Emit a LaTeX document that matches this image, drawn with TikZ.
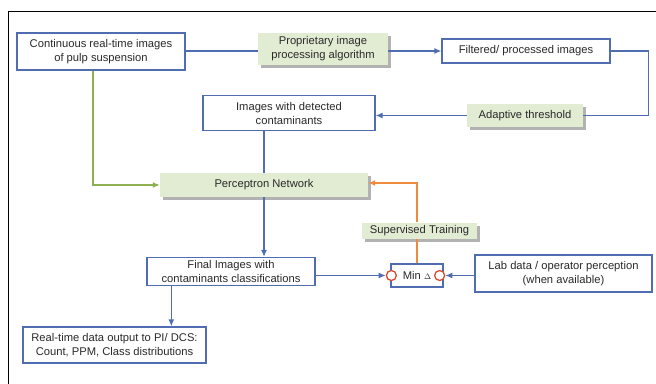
\documentclass[tikz,border=0pt]{standalone}
\usepackage{fontspec}
\setmainfont{Liberation Sans}
\usetikzlibrary{arrows.meta,positioning,shadows}
\definecolor{flowblue}{HTML}{4F6DB0}
\definecolor{procgreen}{HTML}{E1ECD3}
\definecolor{feedgreen}{HTML}{8DB152}
\definecolor{trainorange}{HTML}{EE8B3E}
\definecolor{markred}{HTML}{D94A33}
\definecolor{inktext}{HTML}{2A2A2A}
\tikzset{
  bluebox/.style={draw=flowblue, line width=1.3pt, fill=white, align=center,
    inner sep=1pt, text=inktext, font=\fontsize{11.2}{14}\selectfont},
  greenbox/.style={fill=procgreen, align=center, inner sep=1pt, text=inktext,
    font=\fontsize{11.2}{14}\selectfont,
    drop shadow={shadow xshift=2.5pt, shadow yshift=-3pt, opacity=0.5, fill=black!60}},
  arr/.style={-{Latex[length=7pt,width=6pt]}, line width=1.3pt, draw=flowblue, color=flowblue},
  link/.style={line width=1.3pt, draw=flowblue},
  greenarr/.style={arr, draw=feedgreen, color=feedgreen},
  orangearr/.style={arr, draw=trainorange, color=trainorange},
  ring/.style={circle, draw=markred, line width=1.3pt, fill=white, inner sep=0pt, minimum size=10pt}
}

\begin{document}
\begin{tikzpicture}[x=1pt, y=-1pt]
    \useasboundingbox (0,0) rectangle (656,383);
    \draw[line width=1pt] (8,390) -- (8,11) -- (660,11);

    % top row
    \node[bluebox, minimum width=168pt, minimum height=37pt] (cont) at (101,51.5)
      {Continuous real-time images\\of pulp suspension};
    \node[greenbox, minimum width=130pt, minimum height=32pt] (prop) at (323,49)
      {Proprietary image\\processing algorithm};
    \node[bluebox, minimum width=168pt, minimum height=24pt] (filt) at (526,51)
      {Filtered/ processed images};
    \node[greenbox, minimum width=116pt, minimum height=23pt] (adapt) at (525,115.5)
      {Adaptive threshold};
    \node[bluebox, minimum width=172pt, minimum height=35pt] (imgs) at (289,113)
      {Images with detected\\contaminants};

    % network and training loop
    \node[greenbox, minimum width=208pt, minimum height=24pt] (perc) at (264,185)
      {Perceptron Network};
    \node[bluebox, minimum width=168pt, minimum height=28pt] (final) at (231,271.5)
      {Final Images with\\contaminants classifications};
    \node[bluebox, minimum width=52pt, minimum height=23pt] (mind) at (417,275.5)
      {Min {\footnotesize$\Delta$}};
    \node[ring] (lring) at ([xshift=1pt]mind.west) {};
    \node[ring] (rring) at ([xshift=-4pt]mind.east) {};
    \node[bluebox, minimum width=177pt, minimum height=37pt] (lab) at (563.5,273.5)
      {Lab data / operator perception\\(when available)};
    \node[greenbox, minimum width=115pt, minimum height=16pt] (super) at (419.5,230.5)
      {Supervised Training};
    \node[bluebox, minimum width=183pt, minimum height=36pt] (out) at (114.5,345)
      {Real-time data output to PI/ DCS:\\Count, PPM, Class distributions};

    \draw[link] (cont.east |- filt) -- (prop.west |- filt);
    \draw[arr] (prop.east |- filt) -- (filt);
    \draw[link] (filt.east) -- ++(38,0) |- (adapt.east);
    \draw[arr] (adapt.west) -- (imgs.east |- adapt.west);
    \draw[link] (perc.north |- imgs.south) -- (perc.north);
    \draw[greenarr] ([xshift=-8pt]cont.south) |- (perc.west);
    \draw[arr] (perc.south) -- (perc.south |- final.north);
    \draw[arr] (final.east |- lring) -- (lring);
    \draw[arr] (lab.west |- rring) -- (rring);
    \draw[trainorange, line width=1.3pt] (mind.north) -- (mind.north |- super.south);
    \draw[orangearr] (mind.north |- super.north) |- ([yshift=2pt]perc.east);
    \draw[arr] ([xshift=25pt]final.south west) -- ([xshift=25pt]final.south west |- out.north);
  \end{tikzpicture}
\end{document}
